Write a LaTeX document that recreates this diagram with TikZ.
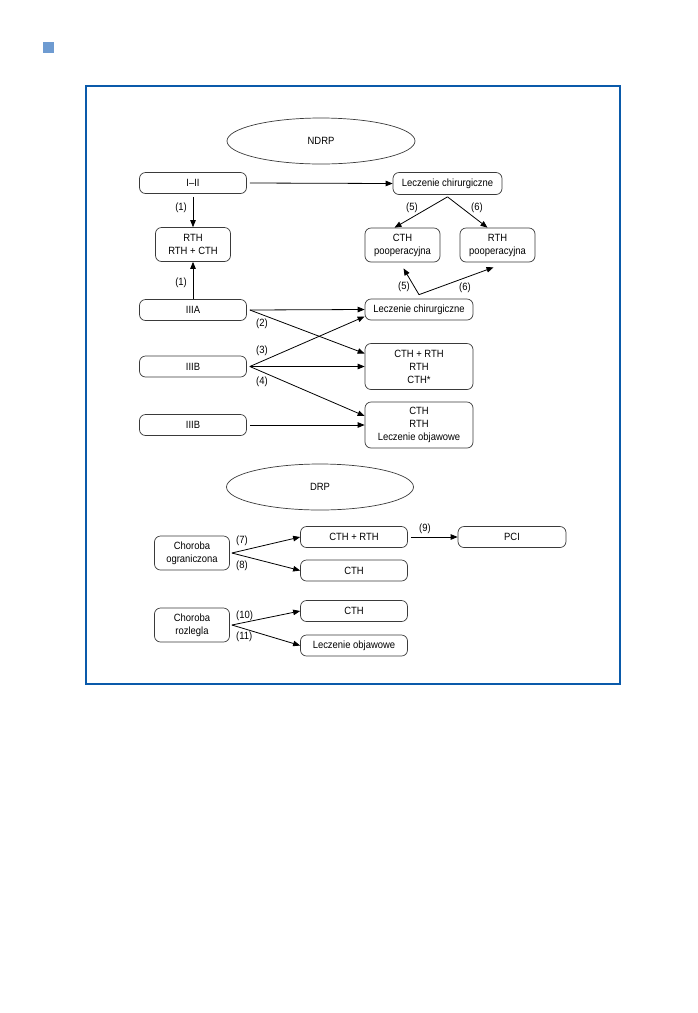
\documentclass[tikz,border=0pt]{standalone}
\usepackage{fontspec}
\setmainfont{Liberation Sans}[FakeStretch=0.9]
\usetikzlibrary{arrows.meta,shapes.geometric,calc}
\definecolor{frameblue}{HTML}{0A5AAA}
\definecolor{sqblue}{HTML}{6E9BD1}
\definecolor{boxgray}{HTML}{3A3A3A}
\newcommand{\dfont}{\fontsize{10.5}{13}\selectfont}
\begin{document}
\begin{tikzpicture}[x=1pt,y=-1pt,
  box/.style={draw=boxgray, line width=0.7pt, rounded corners=6pt, inner sep=0pt, align=center, font=\dfont, text=black},
  wbox/.style={box, minimum width=107pt, minimum height=21pt},
  tbox/.style={box, minimum width=75pt, minimum height=34pt},
  mbox/.style={box, minimum width=108pt, minimum height=46pt},
  oval/.style={ellipse, draw=boxgray, line width=0.7pt, inner sep=0pt, minimum width=188pt, minimum height=46pt, font=\dfont},
  arr/.style={-{Triangle[length=7pt,width=5.5pt]}, line width=0.8pt, black},
  lab/.style={font=\dfont, inner sep=0pt}]
\useasboundingbox (0,0) rectangle (698,1013);
\fill[sqblue] (43,42) rectangle (54,53);
\draw[frameblue, line width=1.5pt] (86,86) rectangle (620,684);

% NDRP part
\node[oval] (ndrp) at (321,141) {NDRP};
\node[wbox] (i) at (193,183) {I--II};
\node[wbox, minimum width=109pt, minimum height=22pt] (lc1) at (447.5,183.5) {Leczenie chirurgiczne};
\node[tbox] (rth) at (193,244.5) {RTH\\RTH + CTH};
\node[tbox] (cthp) at (402.5,245) {CTH\\pooperacyjna};
\node[tbox] (rthp) at (497.5,245) {RTH\\pooperacyjna};
\node[wbox] (iiia) at (193,310) {IIIA};
\node[wbox, minimum width=108pt] (lc2) at (419,309.5) {Leczenie chirurgiczne};
\node[wbox] (iiib) at (193,366.5) {IIIB};
\node[mbox] (m1) at (419,366.5) {CTH + RTH\\RTH\\CTH*};
\node[wbox] (iiib2) at (193,425) {IIIB};
\node[mbox] (m2) at (419,425) {CTH\\RTH\\Leczenie objawowe};

\coordinate (ap1) at ([yshift=-2pt]lc1.south);
\coordinate (ap2) at ([yshift=4pt]lc2.north);

\draw[arr] ([xshift=3pt]i.east) -- (lc1.west);
\draw[arr, shorten <=3pt] (i.south) -- (rth.north);
\draw[arr] (iiia.north) -- (rth.south);
\draw[arr] (ap1) -- ([xshift=-8pt]cthp.north);
\draw[arr] (ap1) -- ([xshift=-10pt]rthp.north);
\draw[arr] (ap2) -- ([xshift=1pt,yshift=-6pt]cthp.south);
\draw[arr] (ap2) -- ([xshift=-4pt,yshift=-5pt]rthp.south);
\draw[arr] ([xshift=3pt]iiia.east) -- (lc2.west);
\draw[arr] ([xshift=3pt]iiia.east) -- ([yshift=13pt]m1.west);
\draw[arr] ([xshift=3pt]iiib.east) -- ([yshift=-7pt]lc2.west);
\draw[arr] ([xshift=3pt]iiib.east) -- (m1.west);
\draw[arr] ([xshift=3pt]iiib.east) -- ([yshift=9pt]m2.west);
\draw[arr] ([xshift=3pt]iiib2.east) -- (m2.west);

\node[lab, anchor=east] (l1a) at (187,208) {(1)};
\node[lab, anchor=east] (l1b) at (187,283) {(1)};
\node[lab] (l5a) at (412,208) {(5)};
\node[lab] (l6a) at (477,208) {(6)};
\node[lab] (l5b) at (404,287) {(5)};
\node[lab] (l6b) at (465,288) {(6)};
\node[lab, anchor=west] (l2) at (256,324) {(2)};
\node[lab, anchor=west] (l3) at (256,351) {(3)};
\node[lab, anchor=west] (l4) at (256,382) {(4)};

% DRP part
\node[oval, minimum width=187pt] (drp) at (320,487) {DRP};
\node[tbox] (cho) at (192,553) {Choroba\\ograniczona};
\node[wbox] (a1) at (354,537) {CTH + RTH};
\node[wbox, minimum width=108pt] (pci) at (512,537) {PCI};
\node[wbox] (a2) at (354,570.5) {CTH};
\node[tbox] (chr) at (192,625) {Choroba\\rozlegla};
\node[wbox] (b1) at (354,611) {CTH};
\node[wbox] (b2) at (354,645.5) {Leczenie objawowe};

\draw[arr] ([xshift=2pt]cho.east) -- (a1.west);
\draw[arr] ([xshift=2pt]cho.east) -- (a2.west);
\draw[arr] ([xshift=3pt]a1.east) -- (pci.west);
\draw[arr] ([xshift=2pt]chr.east) -- (b1.west);
\draw[arr] ([xshift=2pt]chr.east) -- (b2.west);

\node[lab, anchor=west] (l7) at (236,541) {(7)};
\node[lab, anchor=west] (l8) at (236,566) {(8)};
\node[lab] (l9) at (425,529) {(9)};
\node[lab, anchor=west] (l10) at (236,616) {(10)};
\node[lab, anchor=west] (l11) at (236,637) {(11)};
\end{tikzpicture}
\end{document}
